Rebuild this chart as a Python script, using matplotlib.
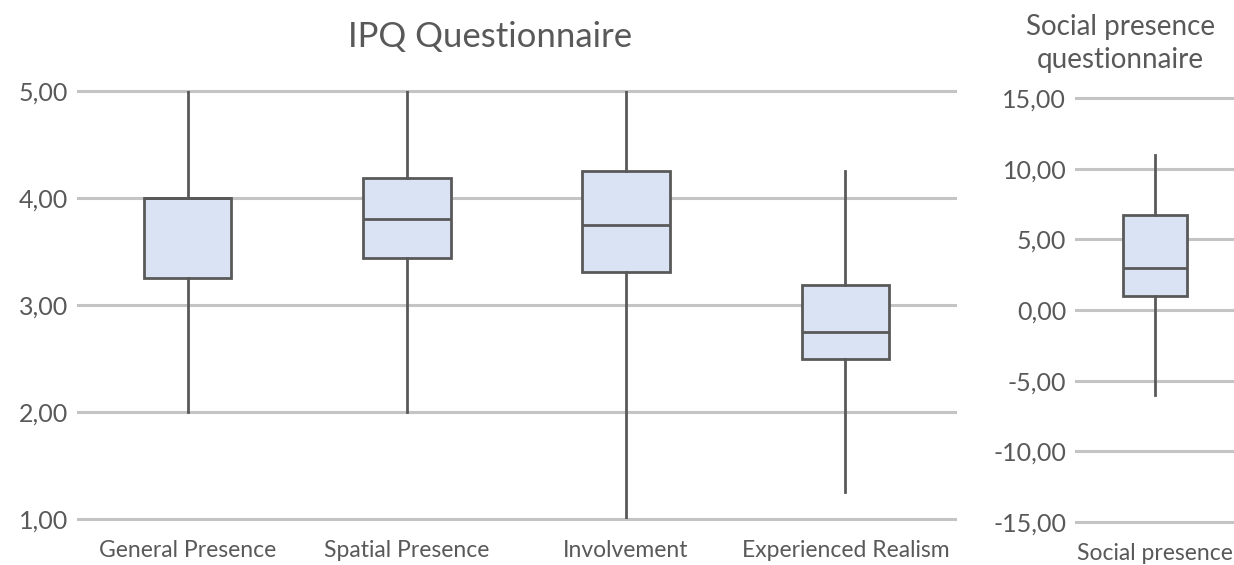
import matplotlib
matplotlib.use('Agg')
import matplotlib.pyplot as plt

plt.rcParams['font.family'] = ['Lato', 'DejaVu Sans']

# IPQ values
ipq_labels = ['General Presence', 'Spatial Presence', 'Involvement', 'Experienced Realism']
ipq_min = [2.00, 2.00, 1.00, 1.25]
ipq_q1 = [3.25, 3.44, 3.31, 2.50]
ipq_med = [4.00, 3.80, 3.75, 2.75]
ipq_q3 = [4.00, 4.19, 4.25, 3.19]
ipq_max = [5.00, 5.00, 5.00, 4.25]
ipq_ticks = [1, 2, 3, 4, 5]

# social presence
sp_labels = ['Social presence']
sp_min = [-6.0]
sp_q1 = [1.0]
sp_med = [3.0]
sp_q3 = [6.7]
sp_max = [11.0]
sp_ticks = [-15, -10, -5, 0, 5, 10, 15]

edge = '#595959'
fill = '#dae3f3'
grid = '#c4c4c4'
txt = '#595959'


def stats(labels, lo, q1, med, q3, hi):
    out = []
    for i in range(len(labels)):
        out.append(dict(label=labels[i], whislo=lo[i], q1=q1[i], med=med[i],
                        q3=q3[i], whishi=hi[i], fliers=[]))
    return out


def draw(ax, st, ticks, width):
    for t in ticks:
        ax.axhline(t, color=grid, lw=2.2, zorder=0, clip_on=False)
    ax.bxp(st, positions=range(len(st)), widths=width, patch_artist=True,
           showcaps=False, showfliers=False,
           boxprops=dict(facecolor=fill, edgecolor=edge, linewidth=2),
           whiskerprops=dict(color=edge, linewidth=2),
           medianprops=dict(color=edge, linewidth=2))
    ax.set_xlim(-0.5, len(st) - 0.5)
    ax.set_ylim(ticks[0], ticks[-1])
    ax.set_yticks(ticks)
    ax.set_yticklabels([f'{t:.2f}'.replace('.', ',') for t in ticks])
    for s in ax.spines.values():
        s.set_visible(False)
    ax.tick_params(axis='both', length=0, colors=txt)
    ax.tick_params(axis='y', pad=7, labelsize=18)
    ax.tick_params(axis='x', pad=15, labelsize=16.5)


fig = plt.figure(figsize=(12.34, 5.65), dpi=100)
ax1 = fig.add_axes([0.0632, 0.0814, 0.7107, 0.7575])
ax2 = fig.add_axes([0.872, 0.0761, 0.128, 0.7504])

draw(ax1, stats(ipq_labels, ipq_min, ipq_q1, ipq_med, ipq_q3, ipq_max), ipq_ticks, 0.4)
draw(ax2, stats(sp_labels, sp_min, sp_q1, sp_med, sp_q3, sp_max), sp_ticks, 0.41)

fig.text(0.397, 0.935, 'IPQ Questionnaire', ha='center', va='center', fontsize=25, color=txt)
fig.text(0.908, 0.923, 'Social presence\nquestionnaire', ha='center', va='center',
         fontsize=20, color=txt, linespacing=1.3)

fig.savefig('out.png', dpi=100)
